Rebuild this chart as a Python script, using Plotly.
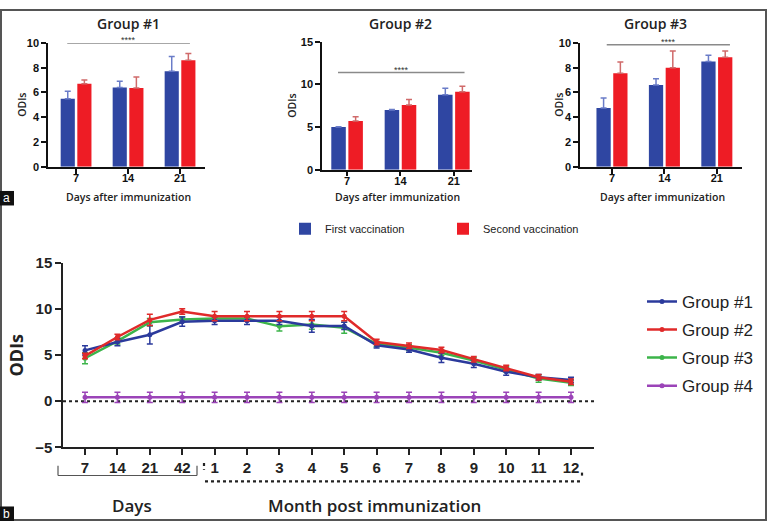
import plotly.graph_objects as go

W, H = 767, 529

# ---------------- data: panel a ----------------
bar_days = ["7", "14", "21"]
g1_first = [5.5, 6.4, 7.7]
g1_first_err = [0.6, 0.5, 1.2]
g1_second = [6.7, 6.35, 8.6]
g1_second_err = [0.3, 0.9, 0.55]
g2_first = [5.0, 7.0, 8.8]
g2_first_err = [0.05, 0.05, 0.75]
g2_second = [5.7, 7.6, 9.15]
g2_second_err = [0.5, 0.65, 0.65]
g3_first = [4.75, 6.6, 8.5]
g3_first_err = [0.8, 0.5, 0.5]
g3_second = [7.55, 8.0, 8.85]
g3_second_err = [0.9, 1.35, 0.5]

# ---------------- data: panel b ----------------
time_labels = ["7", "14", "21", "42", "1", "2", "3", "4", "5", "6", "7", "8", "9", "10", "11", "12"]
grp1 = [5.5, 6.4, 7.2, 8.6, 8.7, 8.7, 8.7, 8.15, 8.15, 6.05, 5.6, 4.7, 4.05, 3.2, 2.6, 2.3]
grp1_err = [0.5, 0.4, 1.0, 0.5, 0.4, 0.4, 0.4, 0.7, 0.4, 0.3, 0.3, 0.5, 0.4, 0.4, 0.3, 0.3]
grp2 = [4.9, 6.95, 8.8, 9.7, 9.2, 9.2, 9.2, 9.2, 9.2, 6.4, 6.0, 5.55, 4.55, 3.6, 2.6, 2.1]
grp2_err = [0.3, 0.3, 0.6, 0.3, 0.5, 0.5, 0.5, 0.5, 0.5, 0.3, 0.3, 0.3, 0.3, 0.3, 0.3, 0.3]
grp3 = [4.65, 6.5, 8.55, 8.85, 8.95, 8.95, 8.1, 8.3, 7.95, 6.2, 5.8, 5.25, 4.4, 3.45, 2.45, 2.0]
grp3_err = [0.6, 0.3, 0.4, 0.3, 0.3, 0.3, 0.5, 0.5, 0.6, 0.3, 0.3, 0.3, 0.3, 0.3, 0.4, 0.3]
grp4 = [0.42] * 16
grp4_err = [0.55] * 16

BLUE_BAR = "#2f46a2"
RED_BAR = "#ee1c25"
BLUE_ERR = "#6a7cc8"
RED_ERR = "#d06a6a"
C1 = "#2b3a9c"
C2 = "#e02a2a"
C3 = "#3cb44a"
C4 = "#9b44b8"


def xd(a, b):
    return [a / W, b / W]


def yd(top, bottom):
    return [1 - bottom / H, 1 - top / H]


def px(x):
    return x / W


def py(y):
    return 1 - y / H


fig = go.Figure()

bar_sets = [
    (g1_first, g1_first_err, g1_second, g1_second_err, "x", "y", True),
    (g2_first, g2_first_err, g2_second, g2_second_err, "x2", "y2", False),
    (g3_first, g3_first_err, g3_second, g3_second_err, "x3", "y3", False),
]
for f, fe, s, se, xa, ya, sl in bar_sets:
    fig.add_trace(go.Bar(
        x=bar_days, y=f, name="First vaccination", marker_color=BLUE_BAR,
        marker_line_width=0, xaxis=xa, yaxis=ya, showlegend=sl, legend="legend",
        error_y=dict(type="data", symmetric=False, array=fe, arrayminus=[0] * 3,
                     color=BLUE_ERR, thickness=1.5, width=3)))
    fig.add_trace(go.Bar(
        x=bar_days, y=s, name="Second vaccination", marker_color=RED_BAR,
        marker_line_width=0, xaxis=xa, yaxis=ya, showlegend=sl, legend="legend",
        error_y=dict(type="data", symmetric=False, array=se, arrayminus=[0] * 3,
                     color=RED_ERR, thickness=1.5, width=3)))

xi = list(range(len(time_labels)))
# drawing order: green, blue, red on top; purple last. legendrank keeps legend order.
for name, vals, errs, col, lg, rank in [
    ("Group #3", grp3, grp3_err, C3, "g3", 3),
    ("Group #1", grp1, grp1_err, C1, "g1", 1),
    ("Group #2", grp2, grp2_err, C2, "g2", 2),
    ("Group #4", grp4, grp4_err, C4, "g4", 4),
]:
    fig.add_trace(go.Scatter(
        x=xi, y=vals, name=name, mode="lines+markers", legendgroup=lg, legendrank=rank,
        line=dict(color=col, width=2.5), marker=dict(color=col, size=5),
        error_y=dict(type="data", array=errs, color=col, thickness=1.5, width=3),
        xaxis="x4", yaxis="y4", legend="legend2"))

tickfont_small = dict(family="Liberation Sans, Arial", size=11, color="#111", weight="bold")
axis_common = dict(showline=True, linecolor="#111", linewidth=1.5, ticks="outside",
                   ticklen=5, tickwidth=1.5, tickcolor="#111", showgrid=False,
                   zeroline=False, tickfont=tickfont_small)

fig.update_layout(
    width=W, height=H, margin=dict(l=0, r=0, t=0, b=0),
    paper_bgcolor="white", plot_bgcolor="white",
    barmode="group", bargap=0.36, bargroupgap=0.15,
    xaxis=dict(domain=xd(48, 205), anchor="y", type="category", range=[-0.54, 2.48],
               ticklabelstandoff=-5, **axis_common),
    yaxis=dict(domain=yd(35, 163), anchor="x", range=[0, 10], dtick=2, **axis_common),
    xaxis2=dict(domain=xd(322, 472), anchor="y2", type="category", range=[-0.47, 2.34],
                ticklabelstandoff=-5, **axis_common),
    yaxis2=dict(domain=yd(34, 166), anchor="x2", range=[0, 15], dtick=5, **axis_common),
    xaxis3=dict(domain=xd(580, 742), anchor="y3", type="category", range=[-0.61, 2.48],
                ticklabelstandoff=-5, **axis_common),
    yaxis3=dict(domain=yd(35, 163), anchor="x3", range=[0, 10], dtick=2, **axis_common),
    xaxis4=dict(domain=xd(63, 594), anchor="y4", range=[-0.68, 15.71],
                tickvals=xi, ticktext=time_labels,
                showline=True, linecolor="#222", linewidth=1.5, ticks="outside",
                ticklen=6, tickwidth=1.5, tickcolor="#222", showgrid=False, zeroline=False,
                tickfont=dict(family="Liberation Sans, Arial", size=15, color="#222", weight="bold")),
    yaxis4=dict(domain=yd(262, 453), anchor="x4", range=[-5, 15], dtick=5,
                showline=True, linecolor="#222", linewidth=1.5, ticks="outside",
                ticklen=6, tickwidth=1.5, tickcolor="#222", showgrid=False, zeroline=False,
                tickfont=dict(family="Liberation Sans, Arial", size=15, color="#222", weight="bold")),
    legend=dict(orientation="h", x=px(285), y=py(227), xanchor="left", yanchor="middle",
                font=dict(family="Liberation Sans, Arial", size=11, color="#222"),
                entrywidth=113, entrywidthmode="pixels", bgcolor="rgba(0,0,0,0)",
                itemwidth=30),
    legend2=dict(orientation="v", x=px(642), y=py(284), xanchor="left", yanchor="top",
                 font=dict(family="Liberation Sans, Arial", size=17, color="#222"),
                 tracegroupgap=3, bgcolor="rgba(0,0,0,0)", itemwidth=30),
)

shapes = []
annos = []

# significance bars
for xref, yref, x0, x1, yv in [("x", "y", -0.17, 2.19, 10.0), ("x2", "y2", -0.17, 2.2, 11.4),
                                ("x3", "y3", -0.1, 2.25, 9.85)]:
    shapes.append(dict(type="line", xref=xref, yref=yref, x0=x0, x1=x1, y0=yv, y1=yv,
                       line=dict(color="#8a8a8a", width=1.5)))
    annos.append(dict(xref=xref, yref=yref, x=(x0 + x1) / 2, y=yv, text="****", showarrow=False,
                      yanchor="bottom", yshift=-4, font=dict(size=9, color="#333", family="Liberation Sans")))

# panel titles and axis titles of panel a
title_font = dict(family="Open Sans, Liberation Sans", size=14, color="#222", weight=600)
lab_font = dict(family="Open Sans, Liberation Sans", size=10.5, color="#222", weight=600)
for cx, tx, ylx, ycy in [(128, "Group #1", 22, 99), (400, "Group #2", 292, 100), (655, "Group #3", 559, 99)]:
    annos.append(dict(xref="paper", yref="paper", x=px(cx), y=py(15), text=tx, showarrow=False,
                      xanchor="center", yanchor="middle", font=title_font))
    annos.append(dict(xref="paper", yref="paper", x=px(ylx), y=py(ycy), text="ODIs", showarrow=False,
                      textangle=-90, xanchor="center", yanchor="middle", font=lab_font))
for cx in [128, 397, 662]:
    annos.append(dict(xref="paper", yref="paper", x=px(cx), y=py(194), text="Days after immunization",
                      showarrow=False, xanchor="center", yanchor="middle", font=lab_font))

# panel b: zero dotted line
shapes.append(dict(type="line", xref="x4", yref="y4", x0=-0.68, x1=15.71, y0=0, y1=0,
                   line=dict(color="#222", width=2, dash="dot"), layer="below"))
# bracket for Days
for x0, y0, x1, y1 in [(58, 482, 197, 482), (58, 472, 58, 482), (197, 472, 197, 482)]:
    shapes.append(dict(type="line", xref="paper", yref="paper", x0=px(x0), x1=px(x1), y0=py(y0), y1=py(y1),
                       line=dict(color="#555", width=1.2)))
# dotted line for months
shapes.append(dict(type="line", xref="paper", yref="paper", x0=px(205), x1=px(582), y0=py(488), y1=py(488),
                   line=dict(color="#222", width=2.2, dash="dot")))
shapes.append(dict(type="line", xref="paper", yref="paper", x0=px(204), x1=px(204), y0=py(469), y1=py(476),
                   line=dict(color="#222", width=2.2, dash="dot")))
shapes.append(dict(type="line", xref="paper", yref="paper", x0=px(582), x1=px(582), y0=py(479), y1=py(484),
                   line=dict(color="#222", width=2.2, dash="dot")))

big_font = dict(family="Open Sans, Liberation Sans", size=17, color="#222", weight=600)
annos.append(dict(xref="paper", yref="paper", x=px(132), y=py(513), text="Days", showarrow=False,
                  xanchor="center", yanchor="middle", font=big_font))
annos.append(dict(xref="paper", yref="paper", x=px(374), y=py(513), text="Month post immunization",
                  showarrow=False, xanchor="center", yanchor="middle", font=big_font))
annos.append(dict(xref="paper", yref="paper", x=px(16), y=py(358), text="ODIs", showarrow=False,
                  textangle=-90, xanchor="center", yanchor="middle",
                  font=dict(family="Open Sans, Liberation Sans", size=18, color="#222", weight="bold")))

# outer frame
shapes.append(dict(type="rect", xref="paper", yref="paper", x0=px(1), x1=px(766), y0=py(528), y1=py(1),
                   line=dict(color="#555", width=2)))
# panel letters
for top, bot, letter in [(188, 203, "a"), (514, 529, "b")]:
    shapes.append(dict(type="rect", xref="paper", yref="paper", x0=0, x1=px(14), y0=py(bot), y1=py(top),
                       fillcolor="#111", line=dict(width=0)))
    annos.append(dict(xref="paper", yref="paper", x=px(7), y=py((top + bot) / 2), text=letter,
                      showarrow=False, xanchor="center", yanchor="middle",
                      font=dict(family="Liberation Sans", size=12, color="white")))

fig.update_layout(shapes=shapes, annotations=annos)
fig.write_html("out.html")
